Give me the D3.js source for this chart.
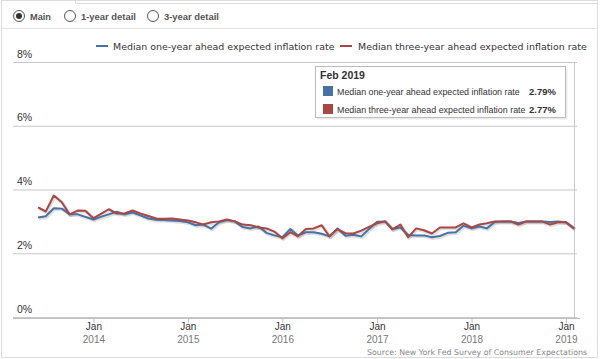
<!DOCTYPE html>
<html><head><meta charset="utf-8">
<script src="https://cdn.jsdelivr.net/npm/d3@7"></script>
<style>
html,body{margin:0;padding:0;background:#fff;}
svg{display:block;font-family:"DejaVu Sans",Verdana,sans-serif;}
</style></head>
<body>
<svg id="c" width="600" height="359"></svg>
<script>
const startMonth = "2013-06";
const oneYear = [3.12,3.16,3.41,3.40,3.22,3.22,3.14,3.06,3.15,3.22,3.30,3.22,3.28,3.19,3.09,3.05,3.04,3.03,3.01,2.97,2.88,2.90,2.77,2.97,3.04,3.00,2.82,2.78,2.84,2.64,2.56,2.50,2.76,2.56,2.66,2.66,2.61,2.53,2.78,2.55,2.58,2.53,2.76,2.99,3.00,2.76,2.81,2.57,2.56,2.56,2.50,2.54,2.64,2.66,2.86,2.78,2.84,2.78,2.98,3.00,3.00,2.95,3.00,3.00,3.00,2.98,3.00,2.97,2.79];
const threeYear = [3.44,3.31,3.81,3.60,3.22,3.34,3.33,3.10,3.24,3.38,3.25,3.25,3.34,3.25,3.17,3.09,3.08,3.09,3.06,3.03,2.97,2.90,2.97,3.00,3.06,3.00,2.90,2.88,2.81,2.78,2.68,2.47,2.66,2.53,2.76,2.78,2.88,2.53,2.75,2.63,2.62,2.71,2.83,2.94,3.00,2.75,2.90,2.50,2.78,2.72,2.62,2.81,2.81,2.81,2.94,2.81,2.90,2.94,3.00,3.00,3.00,2.90,3.00,3.00,3.00,2.90,2.97,2.97,2.77];
const seriesNames = ["Median one-year ahead expected inflation rate","Median three-year ahead expected inflation rate"];
const yTicks = [0,2,4,6,8];
const yTickLabels = ["0%","2%","4%","6%","8%"];
const xTickYears = [2014,2015,2016,2017,2018,2019];
const xTickMonth = "Jan";
const radioLabels = ["Main","1-year detail","3-year detail"];
const tooltipTitle = "Feb 2019";
const tooltipValues = ["2.79%","2.77%"];
const sourceText = "Source: New York Fed Survey of Consumer Expectations";

const colors = ["#4572A7","#AA4643"];
const parse = d3.timeParse("%Y-%m");
const t0 = parse(startMonth);
const dates = oneYear.map((d,i)=>d3.timeMonth.offset(t0,i));

const svg = d3.select("#c");

// scale a text's font size so it spans the target width
function fit(sel, w){
  const n = sel.node();
  const cur = n.getComputedTextLength();
  const fs = parseFloat(sel.attr("font-size"));
  if(cur>0) sel.attr("font-size", (fs*w/cur).toFixed(2));
  return sel;
}

// frame
svg.append("rect").attr("x",1.5).attr("y",0.5).attr("width",596).attr("height",357)
  .attr("fill","none").attr("stroke","#ddd");
svg.append("line").attr("x1",1.5).attr("x2",597.5).attr("y1",28.5).attr("y2",28.5).attr("stroke","#e3e3e3");
svg.append("line").attr("x1",75.5).attr("x2",75.5).attr("y1",0).attr("y2",3.5).attr("stroke","#ddd");
svg.append("line").attr("x1",75.5).attr("x2",597.5).attr("y1",3.5).attr("y2",3.5).attr("stroke","#ddd");

// radios
const radioX = [19,70,153];
const radioW = [21,55,55];
radioLabels.forEach((l,i)=>{
  svg.append("circle").attr("cx",radioX[i]).attr("cy",16).attr("r",5.5)
    .attr("fill","#fff").attr("stroke","#555").attr("stroke-width",1);
  if(i===0) svg.append("circle").attr("cx",radioX[i]).attr("cy",16).attr("r",3).attr("fill","#333");
  fit(svg.append("text").attr("x",radioX[i]+11).attr("y",20).attr("font-size",10.5)
    .attr("font-family","Liberation Sans,Arial,sans-serif").attr("font-weight","bold")
    .attr("fill","#555").text(l), radioW[i]);
});

const x = d3.scaleTime().domain([t0, dates[dates.length-1]]).range([38,574]);
const y = d3.scaleLinear().domain([0,8]).range([317,62]);

// y grid + labels
const gy = svg.append("g").attr("transform","translate(13,0)")
  .call(d3.axisRight(y).tickValues(yTicks).tickSize(564).tickFormat((d,i)=>yTickLabels[i]));
gy.select(".domain").remove();
gy.selectAll(".tick line").attr("stroke","#c8c8c8");
gy.selectAll(".tick text").attr("x",4).attr("dy",-5).attr("text-anchor","start")
  .attr("font-size",10.5).attr("fill","#333").attr("font-family","Liberation Sans,Arial,sans-serif")
  .attr("y",0);

// x axis
svg.append("line").attr("x1",13).attr("x2",580).attr("y1",318.5).attr("y2",318.5).attr("stroke","#c0c0c0");
const tickDates = xTickYears.map(yr=>new Date(yr,0,1));
const gx = svg.append("g").attr("transform","translate(0,318)")
  .call(d3.axisBottom(x).tickValues(tickDates).tickSize(5).tickFormat(()=>""));
gx.select(".domain").remove();
gx.selectAll(".tick line").attr("stroke","#c0c0c0");
gx.selectAll(".tick text").remove();
gx.selectAll(".tick").each(function(d,i){
  const t = d3.select(this).append("text").attr("text-anchor","middle")
    .attr("font-family","Liberation Sans,Arial,sans-serif").attr("font-size",10);
  t.append("tspan").attr("x",0).attr("y",12).attr("fill","#333").text(xTickMonth);
  t.append("tspan").attr("x",0).attr("y",25).attr("fill","#777").text(xTickYears[i]);
});

// crosshair at last point
svg.append("line").attr("x1",x(dates[dates.length-1])+0.5).attr("x2",x(dates[dates.length-1])+0.5)
  .attr("y1",62).attr("y2",318).attr("stroke","#c8c8c8");

// lines
const line = d3.line().x((d,i)=>x(dates[i])).y(d=>y(d));
[oneYear,threeYear].forEach((s,k)=>{
  svg.append("path").datum(s).attr("d",line).attr("fill","none")
    .attr("stroke","rgba(0,0,0,0.12)").attr("stroke-width",3.5).attr("transform","translate(1,1)")
    .attr("stroke-linejoin","round");
});
[oneYear,threeYear].forEach((s,k)=>{
  svg.append("path").datum(s).attr("d",line).attr("fill","none")
    .attr("stroke",colors[k]).attr("stroke-width",2).attr("stroke-linejoin","round");
});

// legend
const lg = [[96,113,222],[340,358,229]];
seriesNames.forEach((n,i)=>{
  svg.append("line").attr("x1",lg[i][0]).attr("x2",lg[i][0]+12).attr("y1",46).attr("y2",46)
    .attr("stroke",colors[i]).attr("stroke-width",2);
  fit(svg.append("text").attr("x",lg[i][1]).attr("y",50).attr("font-size",10).attr("fill","#333").text(n), lg[i][2]);
});

// tooltip
const tt = svg.append("g");
tt.append("rect").attr("x",317.5).attr("y",68.5).attr("width",250).attr("height",51)
  .attr("fill","rgba(0,0,0,0.08)");
tt.append("rect").attr("x",315.5).attr("y",66.5).attr("width",250).attr("height",51)
  .attr("fill","#fff").attr("stroke","#bbb");
tt.append("text").attr("x",320).attr("y",79).attr("font-size",10.5).attr("font-weight","bold")
  .attr("font-family","Liberation Sans,Arial,sans-serif").attr("fill","#333").text(tooltipTitle);
const rowW = [183,189];
seriesNames.forEach((n,i)=>{
  const yy = 91 + i*18;
  tt.append("rect").attr("x",323).attr("y",yy-5).attr("width",10).attr("height",10).attr("fill",colors[i]);
  fit(tt.append("text").attr("x",337).attr("y",yy+4).attr("font-size",9.5)
    .attr("font-family","Liberation Sans,Arial,sans-serif").attr("fill","#333").text(n), rowW[i]);
  tt.append("text").attr("x",556).attr("y",yy+4).attr("font-size",9.5).attr("font-weight","bold")
    .attr("text-anchor","end").attr("font-family","Liberation Sans,Arial,sans-serif")
    .attr("fill","#333").text(tooltipValues[i]);
});

// source
fit(svg.append("text").attr("x",587).attr("y",355).attr("text-anchor","end").attr("font-size",8.5)
  .attr("font-family","DejaVu Sans,Verdana,sans-serif").attr("fill","#888").text(sourceText), 220);
</script>
</body></html>
